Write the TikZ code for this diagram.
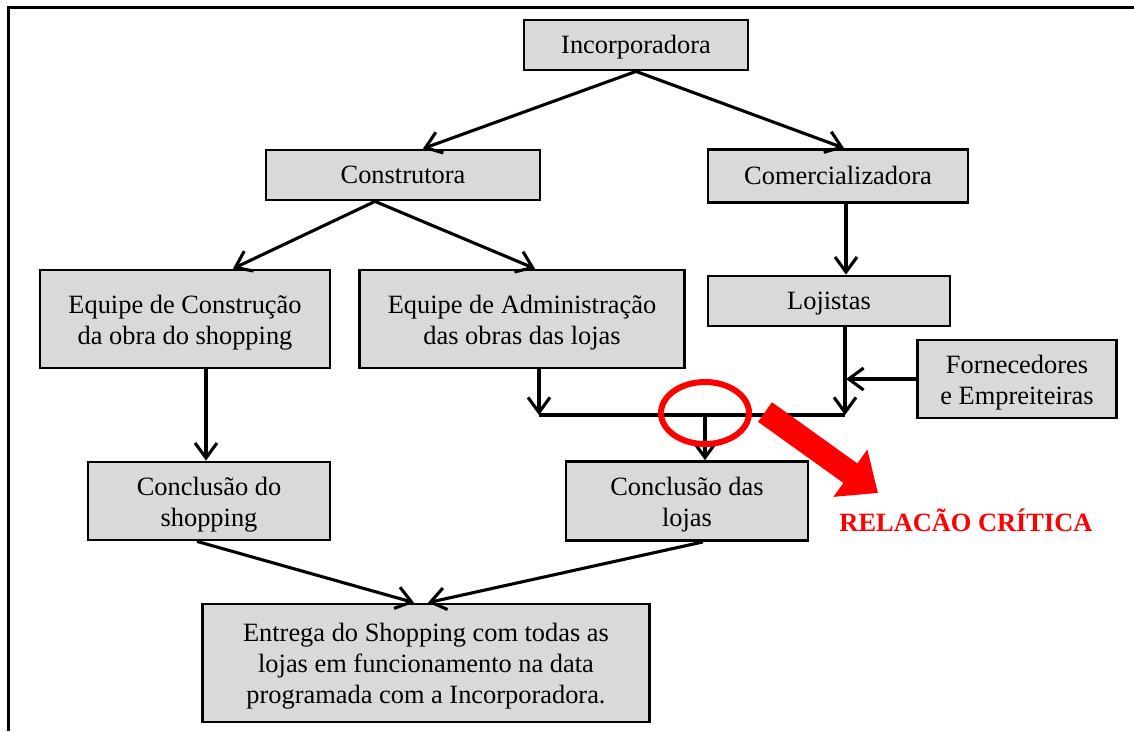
\documentclass[tikz,border=0pt]{standalone}
\usepackage{fontspec}
\setmainfont{Liberation Serif}
\usetikzlibrary{arrows.meta,calc}
\newcommand{\bxt}[2][3.5pt]{\raisebox{-#1}[\height][\depth]{\begin{tabular}{@{}c@{}}#2\end{tabular}}}
\begin{document}
\begin{tikzpicture}[x=1pt,y=-1pt,
  box/.style={draw=black, line width=2.8pt, fill=black!15, inner sep=0pt, align=center,
              font=\fontsize{26.4}{31}\selectfont},
  conn/.style={line width=3.1pt, draw=black},
  arr/.style={conn, -{Straight Barb[length=15pt,width=22pt,line width=3.1pt]}},
]
\useasboundingbox (0,0) rectangle (1134,731);
\draw[line width=3pt] (8,731) -- (8,7) -- (1134,7);

\node[box, minimum width=224, minimum height=50] (inc) at (636,45) {\bxt[2pt]{Incorporadora}};
\node[box, minimum width=274, minimum height=50] (con) at (403,175) {\bxt[2pt]{Construtora}};
\node[box, minimum width=260, minimum height=53] (com) at (838,176) {\bxt[2pt]{Comercializadora}};
\node[box, minimum width=290, minimum height=98] (eqc) at (185,319) {\bxt{Equipe de Construção\\da obra do shopping}};
\node[box, minimum width=325, minimum height=98] (eqa) at (522,319) {\bxt{Equipe de Administração\\das obras das lojas}};
\node[box, minimum width=242, minimum height=50] (loj) at (829,301) {\bxt[2pt]{Lojistas}};
\node[box, minimum width=199, minimum height=78] (for) at (1017,379) {\bxt{Fornecedores\\e Empreiteiras}};
\node[box, minimum width=242, minimum height=78] (cs) at (209,501) {\bxt{Conclusão do\\shopping}};
\node[box, minimum width=242, minimum height=79] (cl) at (687,501) {\bxt{Conclusão das\\lojas}};
\node[box, minimum width=447, minimum height=118] (ent) at (426,663) {\bxt{Entrega do Shopping com todas as\\lojas em funcionamento na data\\programada com a Incorporadora.}};

\coordinate (bl) at (539,415);
\coordinate (br) at (845,415);
\coordinate (bm) at (705,415);
\coordinate (fj) at (846,379);

\draw[arr] (inc.south) -- ($(con.north)+(20,0)$);
\draw[arr] (inc.south) -- ($(com.north)+(6,0)$);
\draw[arr] ($(con.south)+(-28,0)$) -- ($(eqc.north)+(48,0)$);
\draw[arr] ($(con.south)+(-28,0)$) -- ($(eqa.north)+(13,0)$);
\draw[arr] ($(com.south)+(8,0)$) -- ($(loj.north)+(17,0)$);
\draw[arr] ($(eqc.south)+(21,0)$) -- ($(cs.north)+(-3,0)$);
\draw[arr] ($(eqa.south)+(17,0)$) -- (bl);
\draw[arr] ($(loj.south)+(16,0)$) -- (br);
\draw[arr] (for.west) -- (fj);
\draw[conn] (bl) -- (br);
\draw[arr] (bm) -- ($(cl.north)+(18,0)$);
\draw[arr] ($(cs.south)+(-12,0)$) -- ($(ent.north)+(-12,0)$);
\draw[arr] ($(cl.south)+(16,0)$) -- ($(ent.north)+(2,0)$);

\draw[red, line width=6pt] (705,413) ellipse [x radius=44, y radius=31];
\coordinate (rs) at (765,412);
\coordinate (re) at (878,493);
\draw[red, line width=24pt, -{Triangle[length=34pt,width=56pt]}] (rs) -- (re);
\node[text=red, font=\fontsize{26.4}{32}\selectfont\bfseries] (rel) at (966,520) {RELACÃO CRÍTICA};
\end{tikzpicture}
\end{document}
